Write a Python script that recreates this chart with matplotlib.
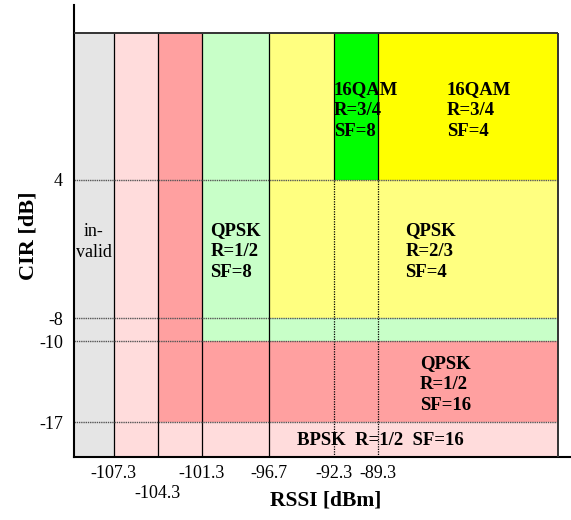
import matplotlib.pyplot as plt
from matplotlib.patches import Rectangle

plt.rcParams['font.family'] = ['Liberation Serif', 'DejaVu Serif']

# threshold values (RSSI in dBm, CIR in dB)
rssi_ticks = [-107.3, -104.3, -101.3, -96.7, -92.3, -89.3]
rssi_labels = ["-107.3", "\n-104.3", "-101.3", "-96.7", "-92.3", "-89.3"]
cir_ticks = [4, -8, -10, -17]
cir_labels = ["4", "-8", "-10", "-17"]

# operating zones: x0, x1, y0, y1
zone_x0 = [-110, -107.3, -104.3, -104.3, -101.3, -101.3, -96.7, -96.7, -92.3, -92.3, -89.3]
zone_x1 = [-107.3, -104.3, -77, -101.3, -77, -96.7, -77, -92.3, -77, -89.3, -77]
zone_y0 = [-20, -20, -20, -17, -17, -10, -10, -8, -8, 4, 4]
zone_y1 = [16.7, 16.7, -17, 16.7, -10, 16.7, -8, 16.7, 4, 16.7, 16.7]
zone_colors = ["#e5e5e5", "#ffdcdc", "#ffdcdc", "#ffa0a0", "#ffa0a0", "#c8ffc8",
               "#c8ffc8", "#ffff80", "#ffff80", "#00ff00", "#ffff00"]

# zone labels
lab_text = ["16QAM\nR=3/4\nSF=8", "16QAM\nR=3/4\nSF=4", "QPSK\nR=2/3\nSF=4",
            "QPSK\nR=1/2\nSF=8", "QPSK\nR=1/2\nSF=16", "BPSK  R=1/2  SF=16"]
lab_x = [-92.3, -84.6, -87.4, -100.7, -86.4, -94.8]
lab_y = [10.0, 10.0, -2.2, -2.2, -13.7, -18.6]

fig = plt.figure(figsize=(5.71, 5.2), dpi=100)
ax = fig.add_axes([74 / 571, 1 - 457 / 520, 497 / 571, 452 / 520])
ax.set_xlim(-110, -76.12)
ax.set_ylim(-20, 19.1)

for x0, x1, y0, y1, c in zip(zone_x0, zone_x1, zone_y0, zone_y1, zone_colors):
    ax.add_patch(Rectangle((x0, y0), x1 - x0, y1 - y0, facecolor=c, edgecolor="none", zorder=1))

# vertical boundaries
for x in rssi_ticks:
    if x > -95:
        ax.vlines(x, 4, 16.7, color="black", lw=0.9, zorder=2)
        ax.vlines(x, -20, 4, color="black", lw=0.9, ls=(0, (1, 1)), zorder=2)
    else:
        ax.vlines(x, -20, 16.7, color="black", lw=0.9, zorder=2)

# horizontal thresholds
for y in cir_ticks:
    ax.hlines(y, -110, -77, color="#555555", lw=1.0, ls=(0, (1, 0.6)), zorder=2)

# outer frame of the zones
ax.hlines(16.7, -110, -77, color="#333333", lw=1.4, zorder=3)
ax.vlines(-77, -20, 16.7, color="#333333", lw=1.4, zorder=3)

for t, x, y in zip(lab_text, lab_x, lab_y):
    ax.text(x, y, t, ha="left", va="center", fontsize=13.5, fontweight="bold",
            linespacing=1.3, zorder=4)
ax.text(-108.65, -1.4, "in-\nvalid", ha="center", va="center", fontsize=13,
        linespacing=1.35, zorder=4)

ax.spines["top"].set_visible(False)
ax.spines["right"].set_visible(False)
ax.spines["left"].set_linewidth(1.5)
ax.spines["bottom"].set_linewidth(1.5)

ax.set_xticks(rssi_ticks)
ax.set_xticklabels(rssi_labels, fontsize=13)
ax.set_yticks(cir_ticks)
ax.set_yticklabels(cir_labels, fontsize=13)
ax.tick_params(axis="x", length=0, pad=6)
ax.tick_params(axis="y", length=0, pad=8)

ax.set_xlabel("RSSI [dBm]", fontsize=15.5, fontweight="bold")
ax.set_ylabel("CIR [dB]", fontsize=16, fontweight="bold")
ax.xaxis.set_label_coords(0.507, -0.075)
ax.yaxis.set_label_coords(-0.072, 0.49)

fig.savefig("out.png", dpi=100)
